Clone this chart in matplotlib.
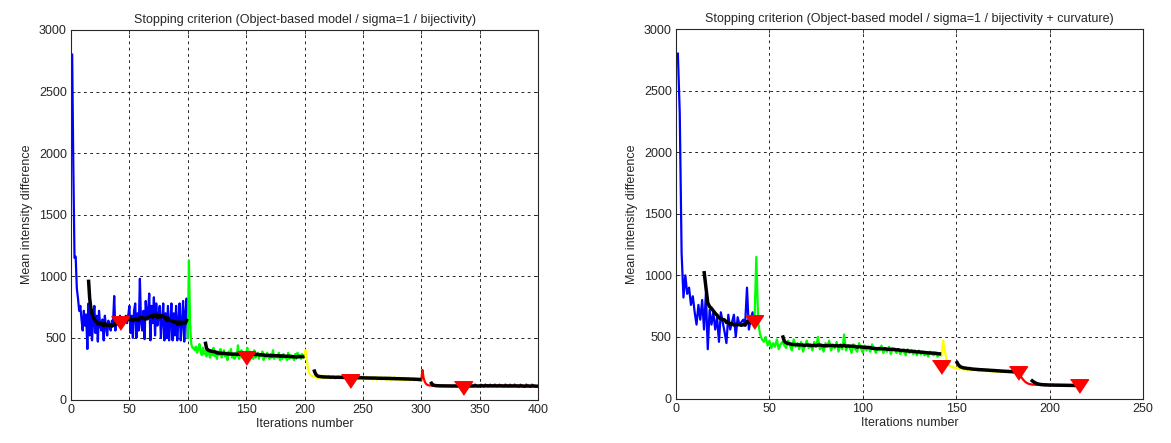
import numpy as np
import matplotlib.pyplot as plt

plt.rcParams['font.family'] = ['Liberation Sans', 'DejaVu Sans']
plt.rcParams['lines.scale_dashes'] = False

# ---- Left run: bijectivity only (iterations 1..400) ----
left_blue = [
    2800, 1880, 1150, 1160, 900, 820, 720, 760, 650, 560,
    720, 600, 690, 410, 780, 520, 700, 480, 640, 760,
    540, 680, 470, 720, 600, 560, 650, 480, 680, 590,
    520, 640, 600, 560, 640, 620, 840, 560, 660, 660,
    600, 680, 640, 660, 610, 660, 680, 620, 680, 760,
    540, 680, 500, 720, 780, 500, 700, 560, 980, 620,
    560, 720, 490, 800, 660, 700, 860, 480, 760, 620,
    830, 520, 780, 600, 680, 760, 500, 640, 780, 480,
    700, 500, 760, 480, 620, 780, 480, 700, 520, 760,
    480, 640, 780, 480, 620, 800, 470, 700, 820, 500,
]
left_green = [
    1130, 620, 450, 420, 420, 400, 430, 380, 410, 450,
    390, 360, 420, 370, 400, 350, 410, 380, 340, 400,
    360, 420, 350, 380, 330, 390, 360, 410, 340, 370,
    400, 350, 380, 320, 390, 360, 410, 340, 370, 330,
    380, 350, 440, 330, 370, 400, 340, 380, 350, 360,
    420, 330, 390, 350, 370, 330, 400, 340, 360, 380,
    330, 370, 350, 390, 320, 360, 340, 380, 350, 330,
    370, 340, 400, 330, 360, 350, 340, 380, 320, 360,
    330, 370, 340, 350, 320, 380, 330, 360, 340, 350,
    320, 370, 330, 380, 340, 360, 330, 370, 340, 350,
]
left_yellow = [
    400, 320, 250, 215, 200, 192, 188, 186,
    196, 176, 190, 172, 194, 178, 188, 170, 195, 176, 186, 172,
    192, 170, 188, 174, 190, 168, 186, 176, 192, 170, 184, 172,
    188, 168, 186, 172, 190, 166, 184, 170, 188, 168, 182, 172,
    186, 164, 182, 170, 188, 162, 180, 168, 186, 164, 178, 170,
    184, 162, 180, 166, 184, 160, 178, 166, 182, 162, 176, 168,
    180, 160, 178, 162, 182, 158, 174, 164, 180, 158, 172, 164,
    178, 156, 174, 160, 178, 154, 172, 160, 176, 154, 170, 160,
    174, 152, 170, 156, 172, 150, 168, 156,
]
left_red = [
    240, 175, 145, 128, 120, 116, 114, 113,
    112, 110, 113, 109, 111, 114, 110, 108, 112, 109, 111, 110,
    108, 112, 110, 109, 111, 107, 110, 112, 108, 110, 109, 111,
    107, 110, 108, 111, 109, 106, 110, 120, 108, 109, 107, 110,
    108, 122, 106, 109, 107, 110, 121, 108, 106, 109, 122, 107,
    108, 106, 121, 109, 107, 108, 122, 106, 108, 107, 121, 108,
    106, 109, 107, 122, 106, 108, 107, 121, 105, 108, 106, 122,
    107, 106, 108, 105, 121, 107, 106, 108, 105, 122, 106, 107,
    105, 108, 121, 106, 105, 107, 106, 105,
]
left_stop_x = [42, 150, 239, 336]
left_stop_y = [625, 340, 150, 95]

# ---- Right run: bijectivity + curvature (iterations 1..216) ----
right_blue = [
    2800, 2320, 1180, 820, 1000, 850, 900, 760, 830, 700,
    600, 760, 640, 800, 560, 850, 400, 720, 600, 700,
    560, 660, 460, 700, 620, 540, 450, 680, 560, 620,
    680, 500, 660, 600, 620, 640, 600, 900, 560, 640, 700, 620,
]
right_green = [
    1150, 620, 520, 480, 460, 500, 430, 470, 410, 450, 420, 480, 400, 440, 460,
    430,
    410, 470, 430, 390, 480, 420, 450, 400, 460, 380, 430, 470,
    410, 440, 390, 460, 420, 500, 400, 430, 380, 450, 420, 470,
    390, 430, 410, 460, 380, 440, 400, 520, 390, 430, 410, 370,
    440, 400, 380, 450, 410, 370, 430, 390, 420, 380, 440, 400,
    370, 410, 390, 430, 370, 400, 380, 420, 360, 410, 390, 370,
    400, 360, 390, 380, 350, 400, 370, 390, 360, 380, 350, 390,
    360, 380, 350, 370, 340, 380, 360, 350, 370, 340, 360, 350,
]
right_yellow = [
    470, 380, 300, 270, 262, 255, 250, 246,
    258, 236, 250, 232, 248, 230, 244, 226, 242, 228, 240, 222,
    238, 224, 236, 220, 234, 218, 232, 216, 230, 214, 228, 212,
    226, 212, 224, 210, 222, 208, 220, 206,
]
right_red = [
    215, 190, 170, 150, 135, 125, 118, 115, 112, 113, 110, 112,
    109, 111, 108, 110, 109, 107, 110, 108, 106, 109, 107, 106,
    108, 105, 107, 106, 105, 107, 104, 106, 105, 104,
]
right_stop_x = [42, 142, 183, 216]
right_stop_y = [625, 255, 207, 105]

seg_colors = ['#0000ff', '#00ff00', '#ffff00', '#ff0000']
avg_windows = [15, 15, 8, 8]
text_color = '#262626'
stop_marker = [(-1, 0.75), (1, 0.75), (0, -0.75)]


def draw_run(ax, segments, stop_x, stop_y, xmax, title):
    start = 1
    prev = None
    averages = []
    for vals, col, win in zip(segments, seg_colors, avg_windows):
        y = np.asarray(vals, dtype=float)
        x = np.arange(start, start + len(y))
        if prev is None:
            ax.plot(x, y, color=col, lw=1.6, zorder=2)
        else:
            ax.plot(np.r_[x[0] - 1, x], np.r_[prev, y], color=col, lw=1.6, zorder=2)
        # running average over the last `win` iterations of this stage
        avg = np.convolve(y, np.ones(win) / win, mode='valid')
        averages.append((x[win - 1:], avg))
        prev = y[-1]
        start += len(y)
    for xa, ya in averages:
        ax.plot(xa, ya, color='black', lw=2.5, zorder=3, solid_capstyle='butt')
    ax.plot(stop_x, stop_y, ls='none', marker=stop_marker, ms=13,
            color='#ff0000', mec='#ff0000', zorder=4)

    ax.set_xlim(0, xmax)
    ax.set_ylim(0, 3000)
    ax.set_xticks(np.arange(0, xmax + 1, 50))
    ax.set_yticks(np.arange(0, 3001, 500))
    ax.grid(True, color='black', lw=0.6, ls=(0, (2, 2.5)))
    ax.tick_params(direction='in', top=True, right=True, length=3, width=0.6,
                   colors=text_color, labelsize=9, pad=3)
    for sp in ax.spines.values():
        sp.set_color(text_color)
        sp.set_linewidth(0.8)
    ax.set_title(title, fontsize=9, color=text_color, pad=5)
    ax.set_xlabel('Iterations number', fontsize=9, color=text_color, labelpad=2)
    ax.set_ylabel('Mean intensity difference', fontsize=9, color=text_color, labelpad=4)


fig = plt.figure(figsize=(11.71, 4.43), dpi=100)
ax_l = fig.add_axes([71 / 1171, 1 - 399.5 / 443, 467 / 1171, 369.5 / 443])
ax_r = fig.add_axes([676 / 1171, 1 - 398.5 / 443, 467 / 1171, 369.5 / 443])

draw_run(ax_l, [left_blue, left_green, left_yellow, left_red],
         left_stop_x, left_stop_y, 400,
         'Stopping criterion (Object-based model / sigma=1 / bijectivity)')
draw_run(ax_r, [right_blue, right_green, right_yellow, right_red],
         right_stop_x, right_stop_y, 250,
         'Stopping criterion (Object-based model / sigma=1 / bijectivity + curvature)')

fig.savefig('out.png', dpi=100)
